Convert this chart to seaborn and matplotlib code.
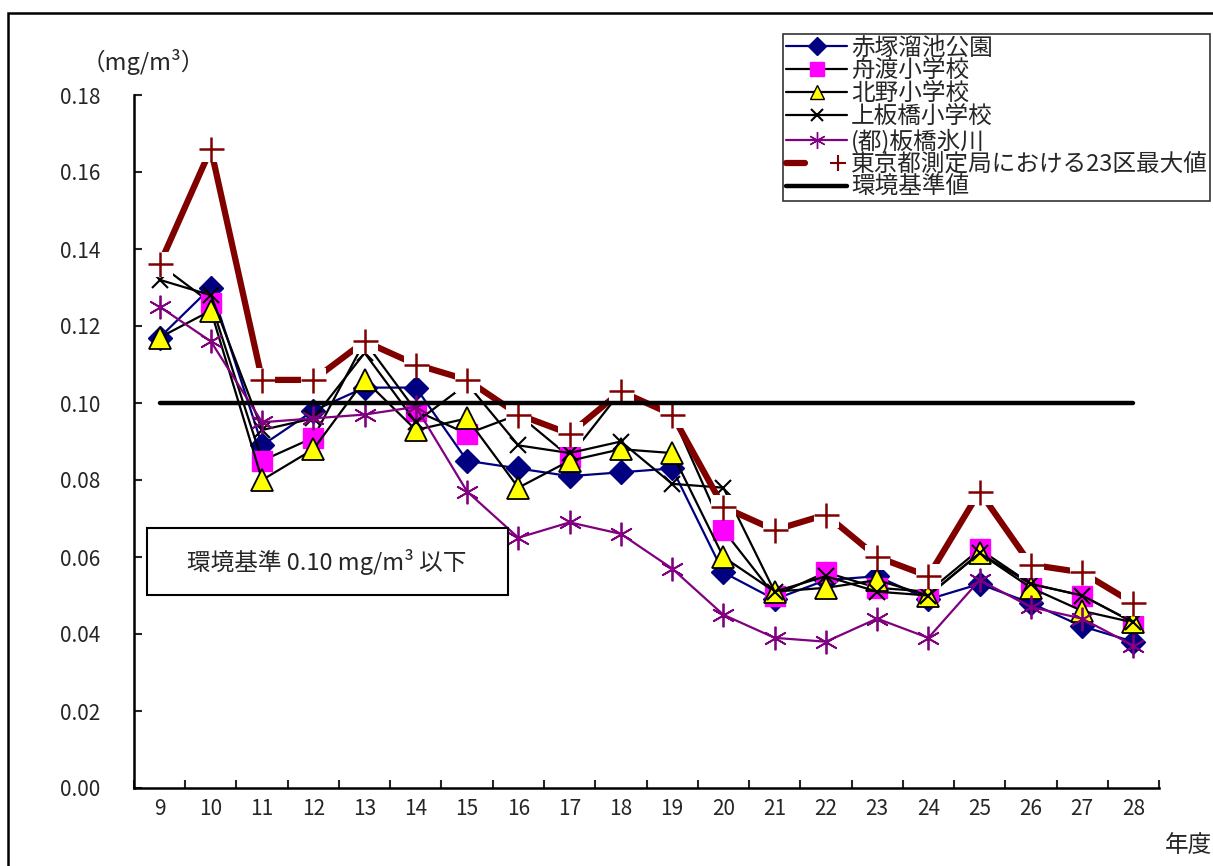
import matplotlib
matplotlib.use("Agg")
import matplotlib.pyplot as plt
from matplotlib.lines import Line2D
from matplotlib.patches import Rectangle
from matplotlib.legend_handler import HandlerTuple
import seaborn as sns

# 年度（平成）
years = [9, 10, 11, 12, 13, 14, 15, 16, 17, 18, 19, 20, 21, 22, 23, 24, 25, 26, 27, 28]

# 各測定局の年平均値 (mg/m3)
akatsuka = [0.117, 0.130, 0.089, 0.098, 0.104, 0.104, 0.085, 0.083, 0.081, 0.082,
            0.083, 0.056, 0.049, 0.054, 0.055, 0.049, 0.053, 0.048, 0.042, 0.038]
funado = [0.136, 0.126, 0.085, 0.091, 0.116, 0.098, 0.092, 0.097, 0.086, 0.103,
          0.097, 0.067, 0.050, 0.056, 0.052, 0.051, 0.062, 0.053, 0.050, 0.043]
kitano = [0.117, 0.124, 0.080, 0.088, 0.106, 0.093, 0.096, 0.078, 0.085, 0.088,
          0.087, 0.060, 0.051, 0.052, 0.054, 0.050, 0.061, 0.052, 0.046, 0.043]
kamiitabashi = [0.132, 0.128, 0.093, 0.096, 0.113, 0.095, 0.105, 0.089, 0.087, 0.090,
                0.079, 0.078, 0.051, 0.055, 0.051, 0.050, 0.061, 0.053, 0.050, 0.043]
hikawa = [0.125, 0.116, 0.095, 0.096, 0.097, 0.099, 0.077, 0.065, 0.069, 0.066,
          0.057, 0.045, 0.039, 0.038, 0.044, 0.039, 0.054, 0.047, 0.044, 0.037]
max23 = [0.136, 0.166, 0.106, 0.106, 0.116, 0.110, 0.106, 0.097, 0.092, 0.103,
         0.097, 0.073, 0.067, 0.071, 0.060, 0.055, 0.077, 0.058, 0.056, 0.048]
env_standard = 0.10

labels = ["赤塚溜池公園", "舟渡小学校", "北野小学校", "上板橋小学校",
          "(都)板橋氷川", "東京都測定局における23区最大値", "環境基準値"]
y_ticks = [0.00, 0.02, 0.04, 0.06, 0.08, 0.10, 0.12, 0.14, 0.16, 0.18]

sns.set_style("white")
plt.rcParams["font.family"] = ["Noto Sans CJK JP", "DejaVu Sans"]

W, H = 1213, 866
fig = plt.figure(figsize=(W / 100, H / 100), dpi=100)
ax = fig.add_axes([134 / W, 78 / H, 1025 / W, 693 / H])

NAVY = "#000080"
MAGENTA = "#FF00FF"
YELLOW = "#FFFF00"
PURPLE = "#800080"
MAROON = "#800000"
ASTER = (6, 2, 0)

# 系列ごとの描画（Excelの描画順どおり）
sns.lineplot(x=years, y=akatsuka, ax=ax, color=NAVY, lw=1.6, marker="D",
             markersize=12, markerfacecolor=NAVY, markeredgecolor=NAVY,
             markeredgewidth=1, zorder=3, legend=False)
sns.lineplot(x=years, y=funado, ax=ax, color="black", lw=1.6, marker="s",
             markersize=15, markerfacecolor=MAGENTA, markeredgecolor=MAGENTA,
             markeredgewidth=1, zorder=4, legend=False)
sns.lineplot(x=years, y=kitano, ax=ax, color="black", lw=1.6, marker="^",
             markersize=16, markerfacecolor=YELLOW, markeredgecolor="black",
             markeredgewidth=1.3, zorder=5, legend=False)
sns.lineplot(x=years, y=kamiitabashi, ax=ax, color="black", lw=1.6, marker="x",
             markersize=12, markeredgecolor="black", markeredgewidth=1.5,
             zorder=6, legend=False)
sns.lineplot(x=years, y=hikawa, ax=ax, color=PURPLE, lw=1.6, marker=ASTER,
             markersize=17, markeredgecolor=PURPLE, markeredgewidth=1.3,
             zorder=7, legend=False)
# 23区最大値：太線＋白抜き背景の十字マーカー
sns.lineplot(x=years, y=max23, ax=ax, color=MAROON, lw=4.5, zorder=8, legend=False)
sns.lineplot(x=years, y=max23, ax=ax, color="white", ls="", marker="s",
             markersize=17, markerfacecolor="white", markeredgecolor="white",
             zorder=8.1, legend=False)
sns.lineplot(x=years, y=max23, ax=ax, color=MAROON, ls="", marker="+",
             markersize=18, markeredgecolor=MAROON, markeredgewidth=1.8,
             zorder=8.2, legend=False)
# 環境基準値
sns.lineplot(x=years, y=[env_standard] * len(years), ax=ax, color="black",
             lw=3.2, zorder=9, legend=False)

ax.set_xlim(8.5, 28.5)
ax.set_ylim(0, 0.18)
ax.set_xticks(years)
ax.set_xticklabels([str(y) for y in years])
ax.set_xticks([y + 0.5 for y in [8] + years], minor=True)
ax.set_yticks(y_ticks)
ax.set_yticklabels([f"{v:.2f}" for v in y_ticks])
ax.tick_params(axis="x", which="major", length=0, pad=7, labelsize=15)
ax.tick_params(axis="x", which="minor", direction="in", length=6, width=1.5,
               bottom=True)
ax.tick_params(axis="y", which="major", direction="in", length=6, width=1.5,
               pad=24, labelsize=15, left=True)
for side in ["top", "right"]:
    ax.spines[side].set_visible(False)
for side in ["left", "bottom"]:
    ax.spines[side].set_linewidth(1.8)
    ax.spines[side].set_color("black")
ax.set_xlabel("")
ax.set_ylabel("")
ax.grid(False)

# 凡例
h_akatsuka = Line2D([], [], color=NAVY, lw=1.6, marker="D", markersize=9,
                    markerfacecolor=NAVY, markeredgecolor=NAVY)
h_funado = Line2D([], [], color="black", lw=1.6, marker="s", markersize=10,
                  markerfacecolor=MAGENTA, markeredgecolor=MAGENTA)
h_kitano = Line2D([], [], color="black", lw=1.6, marker="^", markersize=10,
                  markerfacecolor=YELLOW, markeredgecolor="black")
h_kami = Line2D([], [], color="black", lw=1.6, marker="x", markersize=9,
                markeredgecolor="black", markeredgewidth=1.5)
h_hikawa = Line2D([], [], color=PURPLE, lw=1.6, marker=ASTER, markersize=12,
                  markeredgecolor=PURPLE)
h_max_line = Line2D([], [], color=MAROON, lw=4.5)
h_max_bg = Line2D([], [], ls="", marker="s", markersize=12,
                  markerfacecolor="white", markeredgecolor="white")
h_max_mk = Line2D([], [], ls="", marker="+", markersize=12,
                  markeredgecolor=MAROON, markeredgewidth=1.5)
h_env = Line2D([], [], color="black", lw=3.2)
handles = [h_akatsuka, h_funado, h_kitano, h_kami, h_hikawa,
           (h_max_line, h_max_bg, h_max_mk), h_env]
leg = fig.legend(handles, labels, loc="upper right",
                 bbox_to_anchor=(1210 / W, 1 - 34 / H), bbox_transform=fig.transFigure,
                 fontsize=17, frameon=True, fancybox=False, shadow=False,
                 borderaxespad=0, borderpad=0.1, labelspacing=0.0,
                 handlelength=2.6, handletextpad=0.15,
                 handler_map={tuple: HandlerTuple(ndivide=None)})
leg.get_frame().set_edgecolor("black")
leg.get_frame().set_linewidth(1.2)

# 単位・軸名
fig.text(82 / W, 1 - 62 / H, "（mg/m³）", fontsize=17, ha="left", va="center")
fig.text(1165 / W, 1 - 845 / H, "年度", fontsize=17, ha="left", va="center")

# 環境基準の注記ボックス
fig.add_artist(Rectangle((147 / W, 1 - 595 / H), 361 / W, 67 / H,
                         transform=fig.transFigure, facecolor="white",
                         edgecolor="black", lw=1.5, zorder=10))
fig.text(327 / W, 1 - 562 / H, "環境基準 0.10 mg/m³ 以下", fontsize=17,
         ha="center", va="center", zorder=11)

# 外枠
fig.add_artist(Rectangle((8 / W, -0.1), 1.2, 1.1 - 13 / H,
                         transform=fig.transFigure, facecolor="none",
                         edgecolor="black", lw=1.8))

fig.savefig("out.png", dpi=100)
